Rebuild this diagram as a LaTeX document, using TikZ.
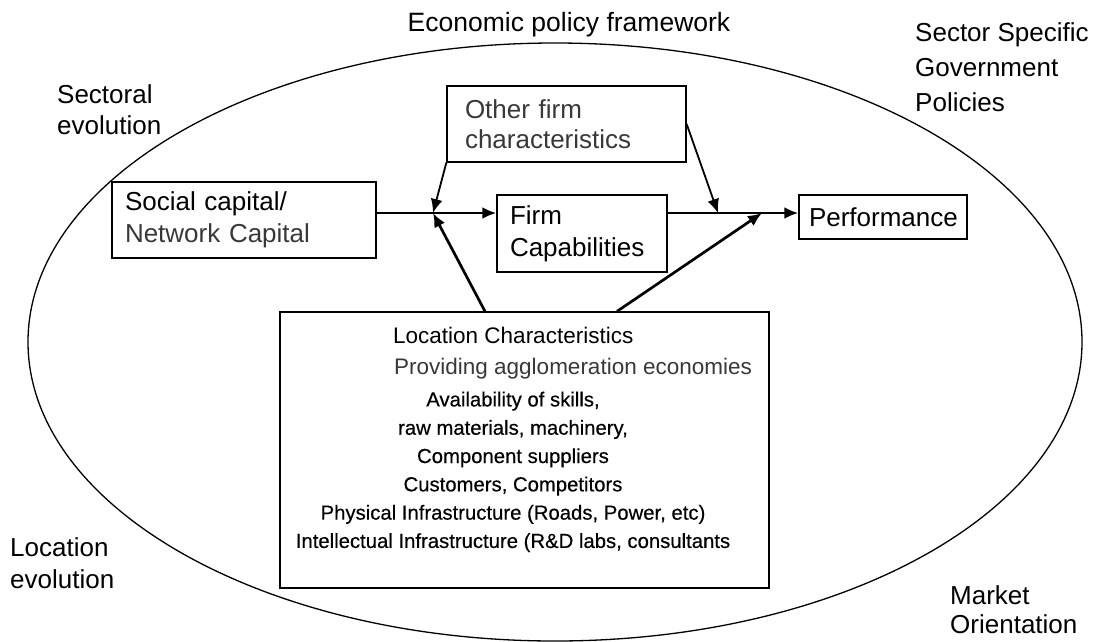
\documentclass[tikz,border=0pt]{standalone}
\usepackage{fontspec}
\setmainfont{Liberation Sans}
\usetikzlibrary{arrows.meta,calc}

\tikzset{
  box/.style={draw, line width=1.3pt, rectangle, inner xsep=13pt, inner ysep=0pt, align=left, font=\fontsize{26}{32}\selectfont},
  lbl/.style={anchor=base west, inner sep=0pt, align=left},
  arr/.style={-{Latex[length=14pt,width=12pt]}, line width=2.7pt},
  thinarr/.style={arr, line width=1.8pt},
  lite/.style={text=black!78}
}

\begin{document}
\begin{tikzpicture}[x=1pt,y=1pt,yscale=-1,xscale=1]
\useasboundingbox (0,0) rectangle (1094,641);

% outer frame
\draw[line width=1.3pt] (555,342) ellipse [x radius=527, y radius=299];

% labels round the frame (anchor is the baseline of the last line)
\node[lbl, anchor=base, font=\fontsize{26.5}{32}\selectfont] (econ) at (569,31) {Economic policy framework};
\node[lbl, font=\fontsize{26}{35}\selectfont] (sector) at (915,111) {Sector Specific\\Government\\Policies};
\node[lbl, font=\fontsize{26}{31}\selectfont] (sectevo) at (57,134) {Sectoral\\evolution};
\node[lbl, font=\fontsize{26}{32}\selectfont] (locevo) at (10,588) {Location\\evolution};
\node[lbl, font=\fontsize{26}{29}\selectfont] (market) at (950,633) {Market\\Orientation};

% boxes
\node[box, text width=238pt, minimum height=76pt] (social) at (244,220)
  {Social capital/\\{\color{black!78}Network Capital}};
\node[box, text width=203pt, minimum height=76pt, inner xsep=18pt, lite, font=\fontsize{26}{30}\selectfont] (other) at (566.5,124)
  {Other firm\\characteristics};
\node[box, text width=144pt, minimum height=77pt] (firm) at (582,233.5)
  {Firm\\Capabilities};
\node[box, text width=148pt, minimum height=44pt, inner xsep=10pt] (perf) at (883,217)
  {Performance};
\node[draw, line width=1.3pt, minimum width=489pt, minimum height=276pt, inner sep=0pt] (loc) at (524.5,450) {};

% location text
\node[lbl, font=\fontsize{22.5}{28}\selectfont] (loctitle) at (393,343) {Location Characteristics};
\node[lbl, lite, font=\fontsize{22.5}{28}\selectfont] (locsub) at (394,374) {Providing agglomeration economies};
\node[anchor=north, inner sep=0pt, align=center, font=\fontsize{20.3}{28.3}\selectfont\addfontfeature{FakeBold=0.4}] (items) at (513,391.5)
  {Availability of skills,\\raw materials, machinery,\\Component suppliers\\Customers, Competitors\\Physical Infrastructure (Roads, Power, etc)\\Intellectual Infrastructure (R\&D labs, consultants};

% junctions
\coordinate (j1) at (433,213);
\coordinate (j2) at (718,213);
\coordinate (j3) at (762,213);

% connectors
\draw[arr] (j1 -| social.east) -- (j1 -| firm.west);
\draw[arr] (j2 -| firm.east) -- (j2 -| perf.west);
\draw[thinarr] (other.south west) -- (j1);
\draw[thinarr] (other.east) -- (j2);
\draw[arr] ([xshift=-39.5pt]loc.north) -- (j1);
\draw[arr] ([xshift=92.5pt]loc.north) -- (j3);

\end{tikzpicture}
\end{document}
